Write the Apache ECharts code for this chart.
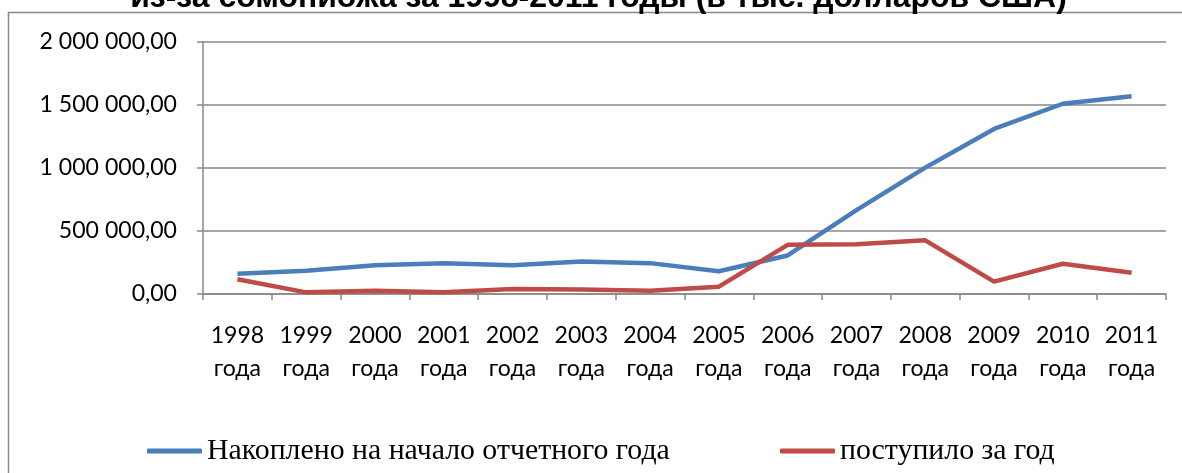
<!DOCTYPE html>
<html><head><meta charset="utf-8">
<script src="https://cdn.jsdelivr.net/npm/echarts@6/dist/echarts.min.js"></script>
<style>html,body{margin:0;padding:0;background:#fff}#c{width:1182px;height:473px}</style>
</head><body><div id="c"></div>
<script>
const titleText = 'из-за сомониожа за 1998-2011 годы (в тыс. долларов США)';
const categories = ['1998\nгода','1999\nгода','2000\nгода','2001\nгода','2002\nгода','2003\nгода','2004\nгода','2005\nгода','2006\nгода','2007\nгода','2008\nгода','2009\nгода','2010\nгода','2011\nгода'];
const seriesNames = ['Накоплено на начало отчетного года', 'поступило за год'];
const accumulated = [160000, 185000, 228000, 245000, 228000, 258000, 245000, 181000, 306000, 665000, 1003000, 1310000, 1510000, 1570000];
const received = [117000, 13000, 26000, 13000, 40000, 35000, 26000, 58000, 390000, 395000, 426000, 98000, 240000, 168000];
const yTicks = { min: 0, max: 2000000, interval: 500000 };

function fmt(v){
  const s = Math.round(v).toString().replace(/\B(?=(\d{3})+(?!\d))/g, ' ');
  return s + ',00';
}
const cv = document.createElement('canvas').getContext('2d');
function fitSize(text, family, weight, target){
  cv.font = weight + ' 100px ' + family;
  return 100 * target / cv.measureText(text).width;
}
function midToBase(family, weight, size){
  cv.font = weight + ' ' + size + 'px ' + family;
  cv.textBaseline = 'middle';
  const d = cv.measureText('x').actualBoundingBoxDescent;
  cv.textBaseline = 'alphabetic';
  return d;
}
const labelFam = 'Lato, sans-serif';
const titleFam = '"Liberation Sans", Arial, sans-serif';
const legendFam = '"Liberation Serif", "Times New Roman", serif';
const labelSize = fitSize('2 000 000,00', labelFam, 'normal', 137.5);
const titleSize = fitSize(titleText, titleFam, 'bold', 937);
const legendSize = fitSize(seriesNames[0], legendFam, 'normal', 463);
const titleMidY = 7.3 - midToBase(titleFam, 'bold', titleSize);

const chart = echarts.init(document.getElementById('c'), null, {renderer:'canvas'});
const axisGrey = '#888888';
const legendText = {fontFamily:legendFam, fontSize:legendSize, color:'#000'};
chart.setOption({
  animation:false,
  backgroundColor:'#fff',
  grid:{left:203, right:16, top:42, bottom:179, containLabel:false},
  graphic:[
    {type:'rect', shape:{x:8.5, y:12.5, width:1200, height:500}, style:{fill:'none', stroke:axisGrey, lineWidth:1.5}, z:-1},
    {type:'text', x:598.5, y:titleMidY, style:{text:titleText, font:'bold ' + titleSize + 'px ' + titleFam, fill:'#000', align:'center', verticalAlign:'middle'}}
  ],
  legend:[
    {data:[seriesNames[0]], left:147, top:436, padding:0, itemWidth:55, itemHeight:5, itemGap:0, icon:'roundRect', textStyle:legendText},
    {data:[seriesNames[1]], left:780, top:436, padding:0, itemWidth:55, itemHeight:5, itemGap:0, icon:'roundRect', textStyle:legendText}
  ],
  xAxis:{type:'category', data:categories, boundaryGap:true,
    axisLine:{lineStyle:{color:axisGrey, width:1.5}},
    axisTick:{show:true, length:6, lineStyle:{color:axisGrey, width:1.5}},
    axisLabel:{color:'#000', fontFamily:labelFam, fontSize:labelSize, lineHeight:33, margin:25, interval:0}},
  yAxis:{type:'value', min:yTicks.min, max:yTicks.max, interval:yTicks.interval,
    axisLine:{show:true, lineStyle:{color:axisGrey, width:1.5}},
    axisTick:{show:true, length:6, lineStyle:{color:axisGrey, width:1.5}},
    splitLine:{lineStyle:{color:axisGrey, width:1.5}},
    axisLabel:{color:'#000', fontFamily:labelFam, fontSize:labelSize, margin:26, formatter:fmt}},
  series:[
    {name:seriesNames[0], type:'line', data:accumulated, symbol:'none', lineStyle:{color:'#4a7ebb', width:4.5}, itemStyle:{color:'#4a7ebb'}},
    {name:seriesNames[1], type:'line', data:received, symbol:'none', lineStyle:{color:'#be4b48', width:4.5}, itemStyle:{color:'#be4b48'}}
  ]
});
</script></body></html>
